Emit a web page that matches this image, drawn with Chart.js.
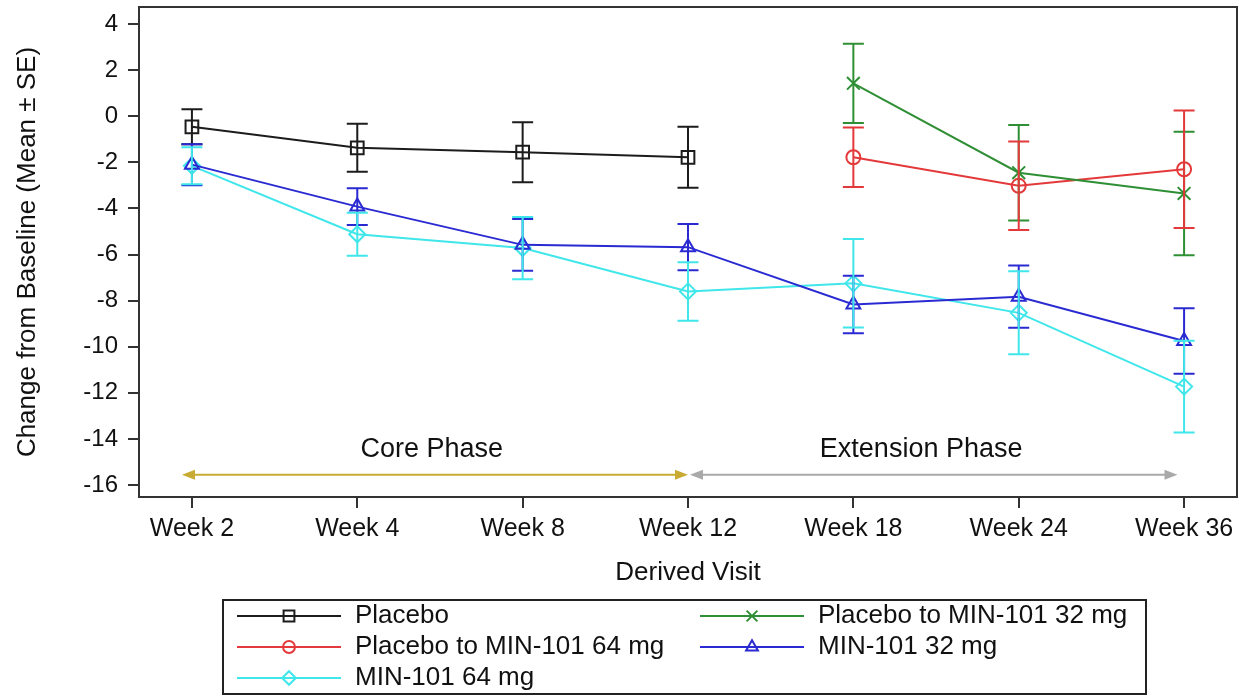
<!DOCTYPE html>
<html>
<head>
<meta charset="utf-8">
<script src="https://cdn.jsdelivr.net/npm/chart.js@4.4.0/dist/chart.umd.min.js"></script>
<style>
  html, body { margin: 0; padding: 0; background: #fff; }
</style>
</head>
<body>
<canvas id="chart" width="1245" height="696"></canvas>
<script>
// visits on the x axis
const categories = ['Week 2', 'Week 4', 'Week 8', 'Week 12', 'Week 18', 'Week 24', 'Week 36'];
const yTicks = [4, 2, 0, -2, -4, -6, -8, -10, -12, -14, -16];

// mean change from baseline, and standard error, per visit
const placeboMean = [-0.46, -1.37, -1.56, -1.78, null, null, null];
const placeboSE   = [0.76, 1.04, 1.30, 1.32, null, null, null];
const pbo32Mean   = [null, null, null, null, 1.43, -2.45, -3.35];
const pbo32SE     = [null, null, null, null, 1.72, 2.07, 2.68];
const pbo64Mean   = [null, null, null, null, -1.78, -3.02, -2.30];
const pbo64SE     = [null, null, null, null, 1.29, 1.92, 2.55];
const min32Mean   = [-2.10, -3.92, -5.58, -5.68, -8.17, -7.83, -9.75];
const min32SE     = [0.89, 0.80, 1.12, 1.00, 1.25, 1.35, 1.42];
const min64Mean   = [-2.15, -5.12, -5.72, -7.60, -7.25, -8.53, -11.73];
const min64SE     = [0.80, 0.93, 1.35, 1.27, 1.92, 1.80, 1.99];

// study phases drawn as arrows along the bottom
const phaseLabels = ['Core Phase', 'Extension Phase'];
const phaseStart  = [-0.06, 3.0];
const phaseEnd    = [3.0, 5.96];
const phaseLabelX = [1.45, 4.41];
const phaseY = -15.55;
const phaseLabelY = -14.45;

const FONT = '"Liberation Sans", Arial, sans-serif';

function pts(means) {
  return means.map((m, i) => ({ x: i, y: m }));
}

function series(label, means, errs, color, style, radius) {
  return {
    label: label,
    data: pts(means),
    errs: errs,
    borderColor: color,
    backgroundColor: 'rgba(0,0,0,0)',
    borderWidth: 2,
    pointStyle: style,
    pointRadius: radius,
    pointBorderWidth: 2,
    pointBorderColor: color,
    pointBackgroundColor: 'rgba(0,0,0,0)',
    spanGaps: false,
    tension: 0
  };
}

const errorBars = {
  id: 'errorBars',
  afterDatasetsDraw(chart) {
    const ctx = chart.ctx, xs = chart.scales.x, ys = chart.scales.y;
    ctx.save();
    ctx.lineWidth = 2;
    chart.data.datasets.forEach(ds => {
      ctx.strokeStyle = ds.borderColor;
      ds.data.forEach((p, i) => {
        if (p.y === null || ds.errs[i] === null) return;
        const px = xs.getPixelForValue(p.x);
        const top = ys.getPixelForValue(p.y + ds.errs[i]);
        const bot = ys.getPixelForValue(p.y - ds.errs[i]);
        ctx.beginPath();
        ctx.moveTo(px, top); ctx.lineTo(px, bot);
        ctx.moveTo(px - 10.5, top); ctx.lineTo(px + 10.5, top);
        ctx.moveTo(px - 10.5, bot); ctx.lineTo(px + 10.5, bot);
        ctx.stroke();
      });
    });
    ctx.restore();
  }
};

function arrowHead(ctx, x, y, dir) {
  ctx.beginPath();
  ctx.moveTo(x, y);
  ctx.lineTo(x - dir * 13, y - 5);
  ctx.lineTo(x - dir * 13, y + 5);
  ctx.closePath();
  ctx.fill();
}

const phases = {
  id: 'phases',
  afterDraw(chart) {
    const ctx = chart.ctx, xs = chart.scales.x, ys = chart.scales.y;
    const colors = ['#c9ab33', '#a9a9a9'];
    ctx.save();
    const py = ys.getPixelForValue(phaseY);
    phaseLabels.forEach((lab, i) => {
      const x0 = xs.getPixelForValue(phaseStart[i]) + (i === 1 ? 2 : 0);
      const x1 = xs.getPixelForValue(phaseEnd[i]);
      ctx.strokeStyle = colors[i];
      ctx.fillStyle = colors[i];
      ctx.lineWidth = 2;
      ctx.beginPath();
      ctx.moveTo(x0 + 6, py); ctx.lineTo(x1 - 6, py);
      ctx.stroke();
      arrowHead(ctx, x0, py, -1);
      arrowHead(ctx, x1, py, 1);
      ctx.fillStyle = '#111';
      ctx.font = '27px ' + FONT;
      ctx.textAlign = 'center';
      ctx.textBaseline = 'middle';
      ctx.fillText(lab, xs.getPixelForValue(phaseLabelX[i]), ys.getPixelForValue(phaseLabelY));
    });
    // top and right edges of the frame
    const a = chart.chartArea;
    ctx.strokeStyle = '#333';
    ctx.lineWidth = 2;
    ctx.beginPath();
    ctx.moveTo(a.left, a.top); ctx.lineTo(a.right, a.top); ctx.lineTo(a.right, a.bottom);
    ctx.stroke();
    ctx.restore();
  }
};

const boxLegend = {
  id: 'boxLegend',
  afterDraw(chart) {
    const ctx = chart.ctx;
    ctx.save();
    ctx.strokeStyle = '#222';
    ctx.lineWidth = 2;
    ctx.strokeRect(223, 600, 923, 94);
    ctx.font = '26px ' + FONT;
    ctx.textBaseline = 'middle';
    ctx.textAlign = 'left';
    chart.data.datasets.forEach((ds, i) => {
      const col = i % 2, row = Math.floor(i / 2);
      const lx = col === 0 ? 237 : 700;
      const ly = 616 + row * 31;
      ctx.strokeStyle = ds.borderColor;
      ctx.fillStyle = 'rgba(0,0,0,0)';
      ctx.lineWidth = 2;
      ctx.beginPath();
      ctx.moveTo(lx, ly); ctx.lineTo(lx + 104, ly);
      ctx.stroke();
      Chart.helpers.drawPoint(ctx, {
        pointStyle: ds.pointStyle, radius: ds.pointRadius * 0.85, rotation: 0, borderWidth: 2
      }, lx + 52, ly);
      ctx.fillStyle = '#111';
      ctx.fillText(ds.label, lx + 118, ly);
    });
    ctx.restore();
  }
};

new Chart(document.getElementById('chart'), {
  type: 'line',
  data: {
    datasets: [
      series('Placebo', placeboMean, placeboSE, '#1c1c1c', 'rect', 9),
      series('Placebo to MIN-101 32 mg', pbo32Mean, pbo32SE, '#2f8f35', 'crossRot', 9),
      series('Placebo to MIN-101 64 mg', pbo64Mean, pbo64SE, '#e4393a', 'circle', 7),
      series('MIN-101 32 mg', min32Mean, min32SE, '#2a2ad2', 'triangle', 8),
      series('MIN-101 64 mg', min64Mean, min64SE, '#3fe6ea', 'rectRot', 8)
    ]
  },
  options: {
    responsive: false,
    animation: false,
    layout: { autoPadding: false, padding: { top: 7, right: 8, left: 0, bottom: 100 } },
    plugins: { legend: { display: false }, tooltip: { enabled: false } },
    scales: {
      x: {
        type: 'linear',
        min: -0.32,
        max: 6.32,
        afterBuildTicks: s => { s.ticks = categories.map((c, i) => ({ value: i })); },
        afterFit: s => { s.height = 99; s.paddingLeft = 0; s.paddingRight = 0; },
        ticks: {
          callback: v => categories[v],
          font: { family: FONT, size: 25 },
          color: '#111',
          padding: 6,
          maxRotation: 0,
          autoSkip: false
        },
        grid: { drawOnChartArea: false, drawTicks: true, tickLength: 11, color: '#333', lineWidth: 2 },
        border: { color: '#333', width: 2 },
        title: {
          display: true,
          text: 'Derived Visit',
          font: { family: FONT, size: 26 },
          color: '#111',
          padding: { top: 0, bottom: 8 }
        }
      },
      y: {
        min: -16.52,
        max: 4.74,
        afterBuildTicks: s => { s.ticks = yTicks.map(v => ({ value: v })); },
        afterFit: s => { s.width = 139; s.paddingTop = 0; s.paddingBottom = 0; },
        ticks: {
          font: { family: FONT, size: 24 },
          color: '#111',
          padding: 10
        },
        grid: { drawOnChartArea: false, drawTicks: true, tickLength: 11, color: '#333', lineWidth: 2 },
        border: { color: '#333', width: 2 },
        title: {
          display: true,
          text: 'Change from Baseline (Mean ± SE)',
          font: { family: FONT, size: 26 },
          color: '#111',
          padding: { top: 12, bottom: 0 }
        }
      }
    }
  },
  plugins: [errorBars, phases, boxLegend]
});
</script>
</body>
</html>
